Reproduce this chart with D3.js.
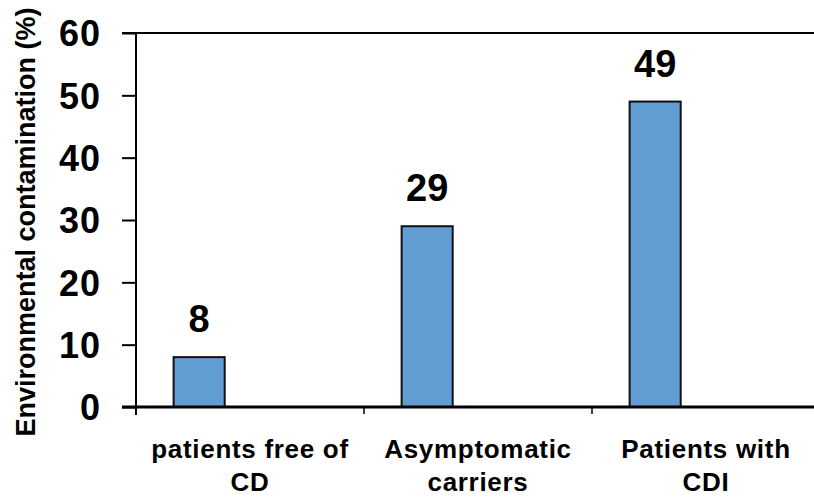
<!DOCTYPE html>
<html lang="en">
<head>
  <meta charset="UTF-8" />
  <title>Environmental contamination</title>
  <script src="https://d3js.org/d3.v7.min.js"></script>
  <style>
    body { margin: 0; background: #fff; }
    text { font-family: Arial, "Liberation Sans", sans-serif; font-weight: bold; fill: #000; }
  </style>
</head>
<body>
  <script>
    // data
    const categories = [['patients free of', 'CD'], ['Asymptomatic', 'carriers'], ['Patients with', 'CDI']];
    const values = [8, 29, 49];
    const yTicks = [0, 10, 20, 30, 40, 50, 60];

    const W = 814, H = 497;
    const svg = d3.select('body').append('svg')
      .attr('width', W)
      .attr('height', H);

    const y = d3.scaleLinear().domain([0, 60]).range([407, 33]);
    const x = d3.scaleBand()
      .domain(d3.range(categories.length))
      .range([136, 820])
      .padding(0);
    const bw = x.bandwidth();

    // y axis
    const yAxis = d3.axisLeft(y)
      .tickValues(yTicks)
      .tickSize(14)
      .tickPadding(21)
      .tickFormat(d3.format('d'));
    const yg = svg.append('g')
      .attr('transform', 'translate(136,0)')
      .call(yAxis);
    yg.select('.domain').remove();
    yg.selectAll('.tick line').attr('stroke', '#000').attr('stroke-width', 2);
    yg.selectAll('.tick text')
      .style('font-size', '36px')
      .style('letter-spacing', '1px')
      .attr('dy', '0.36em');

    // y axis line, extends a little below zero
    svg.append('line')
      .attr('x1', 136).attr('x2', 136)
      .attr('y1', y(60)).attr('y2', y(0) + 8)
      .attr('stroke', '#000').attr('stroke-width', 2);

    // top frame line
    svg.append('line')
      .attr('x1', 122).attr('x2', W)
      .attr('y1', y(60)).attr('y2', y(60))
      .attr('stroke', '#000').attr('stroke-width', 2);

    // category tick marks
    svg.selectAll('.cat-tick')
      .data(d3.range(1, categories.length))
      .join('line')
      .attr('class', 'cat-tick')
      .attr('x1', d => x(d)).attr('x2', d => x(d))
      .attr('y1', y(0)).attr('y2', y(0) + 7)
      .attr('stroke', '#000').attr('stroke-width', 1.5);

    // bars
    svg.selectAll('.bar')
      .data(values)
      .join('rect')
      .attr('class', 'bar')
      .attr('x', (d, i) => x(i) + bw * 0.165)
      .attr('width', bw * 0.224)
      .attr('y', d => y(d))
      .attr('height', d => y(0) - y(d))
      .attr('fill', '#619dd2')
      .attr('stroke', '#111')
      .attr('stroke-width', 2);

    // value labels
    svg.selectAll('.val')
      .data(values)
      .join('text')
      .attr('class', 'val')
      .attr('x', (d, i) => x(i) + bw * 0.165 + bw * 0.112)
      .attr('y', d => y(d) - 25)
      .attr('text-anchor', 'middle')
      .style('font-size', '38px')
      .text(d => d);

    // x axis line
    svg.append('line')
      .attr('x1', 122).attr('x2', W)
      .attr('y1', y(0)).attr('y2', y(0))
      .attr('stroke', '#000').attr('stroke-width', 3);

    // category labels
    const cl = svg.selectAll('.cat')
      .data(categories)
      .join('text')
      .attr('class', 'cat')
      .attr('text-anchor', 'middle')
      .style('font-size', '26px')
      .style('letter-spacing', '0.7px');
    cl.selectAll('tspan')
      .data((d, i) => d.map(t => ({ t, i })))
      .join('tspan')
      .attr('x', d => x(d.i) + bw / 2)
      .attr('y', (d, j) => 458 + j * 33)
      .text(d => d.t);

    // y title
    svg.append('text')
      .attr('transform', 'translate(35,222) rotate(-90)')
      .attr('text-anchor', 'middle')
      .style('font-size', '27px')
      .text('Environmental contamination (%)');
  </script>
</body>
</html>
